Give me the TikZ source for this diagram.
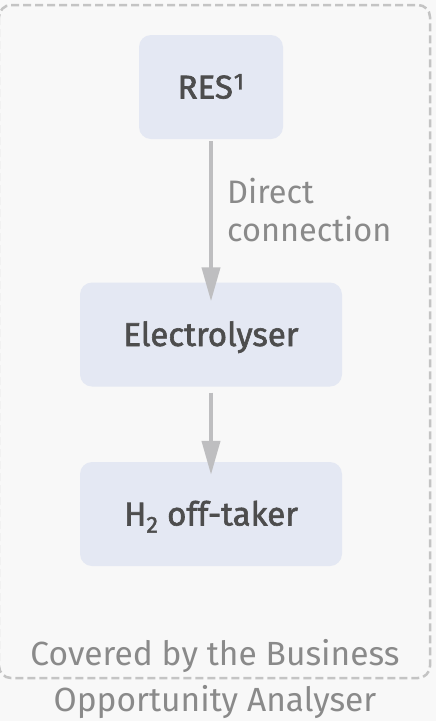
\documentclass[tikz,border=0pt]{standalone}
\usepackage{fontspec}
\setmainfont{Fira Sans}
\newfontfamily\stagefont{Fira Sans}[FakeBold=1.8]
\usetikzlibrary{arrows.meta}

\definecolor{bgcol}{HTML}{F8F8F8}
\definecolor{boxcol}{HTML}{E4E8F3}
\definecolor{darktext}{HTML}{4D4D4D}
\definecolor{lighttext}{HTML}{8A8A8A}
\definecolor{arrowcol}{HTML}{BEBEC0}
\definecolor{framecol}{HTML}{C4C4C4}

\tikzset{
    stage/.style={fill=boxcol, rounded corners=12pt, text=darktext, font=\stagefont\fontsize{33}{38}\selectfont,
        text height=23pt, text depth=0pt, inner sep=0pt},
    flow/.style={draw=arrowcol, line width=4pt, -{Triangle[length=34pt, width=18pt]}},
    note/.style={text=lighttext, inner sep=0pt, font=\fontsize{32.5}{38}\selectfont}
}

\begin{document}
\begin{tikzpicture}[x=1pt, y=-1pt]
        \fill[bgcol] (0,0) rectangle (436,721);
        \useasboundingbox (0,0) rectangle (436,721);
        \draw[framecol, line width=2.5pt, dash pattern=on 8pt off 4pt, rounded corners=12pt] (-1,5) rectangle (430,678);
        \node[stage, minimum width=144pt, minimum height=104pt] (res) at (211,87) {RES\kern1pt\textsuperscript{1}};
        \node[stage, minimum width=262pt, minimum height=104pt] (elec) at (211,334.5) {Electrolyser};
        \node[stage, minimum width=262pt, minimum height=104pt] (h2) at (211,514) {H\textsubscript{2} off-taker};
        \draw[flow, shorten <=2pt, shorten >=-19pt] (res) -- (elec);
        \draw[flow, shorten <=6pt, shorten >=-13pt] (elec) -- (h2);
        \node[note, anchor=north west, align=left] (direct) at (227,178) {Direct\\connection};
        \node[note, anchor=north, align=center, font=\fontsize{33.5}{46}\selectfont] (covered) at (215,639) {Covered by the Business\\Opportunity Analyser};
    \end{tikzpicture}
\end{document}
